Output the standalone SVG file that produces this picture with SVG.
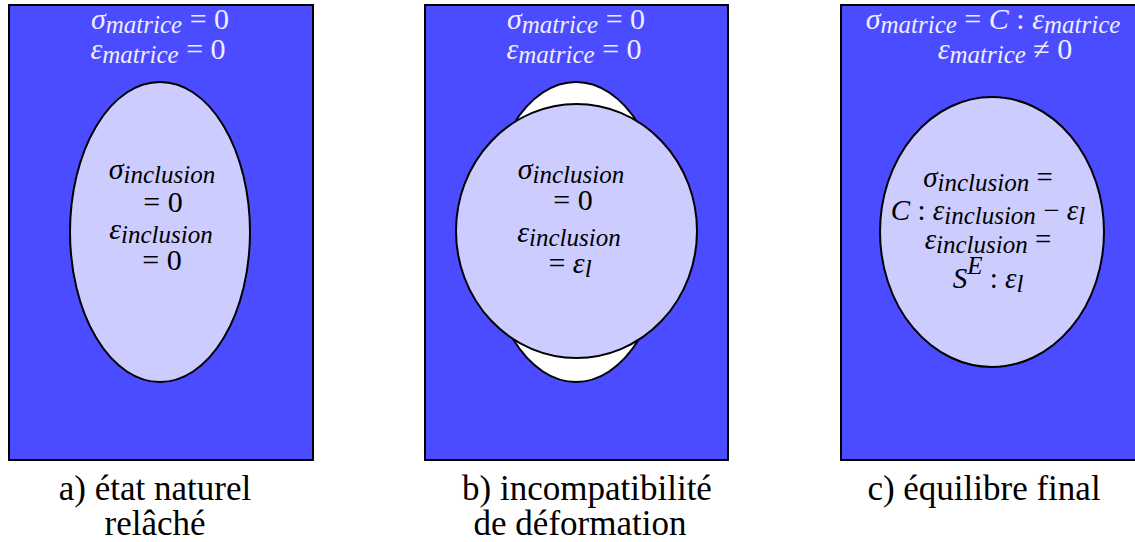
<svg xmlns="http://www.w3.org/2000/svg" width="1135" height="542" viewBox="0 0 1135 542">
<style>
.bg{fill:#4b4bff;stroke:#000;stroke-width:2}
.inc{fill:#ccccff;stroke:#000;stroke-width:2}
.wh{fill:#fff;stroke:#000;stroke-width:2}
.m{font-family:"Liberation Serif","DejaVu Serif",serif;font-size:30px}
.c{font-size:29px}
.i{font-style:italic}
.s{font-size:25px;font-style:italic}
.w{fill:#eeeeff}
.k{fill:#000}
.cap{font-family:"Liberation Serif","DejaVu Serif",serif;font-size:35px;fill:#000}
</style>
<g id="panel-a">
<rect class="bg" x="9" y="5" width="304" height="455"/>
<ellipse class="inc" cx="160" cy="232" rx="90" ry="150"/>
<text class="m w" x="160" y="29" text-anchor="middle"><tspan class="i">σ</tspan><tspan class="s" dy="4">matrice</tspan><tspan dy="-4"> = 0</tspan></text>
<text class="m w" x="158" y="59" text-anchor="middle"><tspan class="i">ε</tspan><tspan class="s" dy="4">matrice</tspan><tspan dy="-4"> = 0</tspan></text>
<text class="m k" x="162" y="179" text-anchor="middle"><tspan class="i">σ</tspan><tspan class="s" dy="4">inclusion</tspan></text>
<text class="m k" x="163" y="212" text-anchor="middle">= 0</text>
<text class="m k" x="161" y="239" text-anchor="middle"><tspan class="i">ε</tspan><tspan class="s" dy="4">inclusion</tspan></text>
<text class="m k" x="162" y="270" text-anchor="middle">= 0</text>
</g>
<g id="panel-b">
<rect class="bg" x="425" y="5" width="303" height="455"/>
<ellipse class="wh" cx="576" cy="232" rx="90" ry="150"/>
<ellipse class="inc" cx="576.5" cy="231" rx="120.5" ry="127"/>
<text class="m w" x="576" y="29" text-anchor="middle"><tspan class="i">σ</tspan><tspan class="s" dy="4">matrice</tspan><tspan dy="-4"> = 0</tspan></text>
<text class="m w" x="574" y="59" text-anchor="middle"><tspan class="i">ε</tspan><tspan class="s" dy="4">matrice</tspan><tspan dy="-4"> = 0</tspan></text>
<text class="m k" x="571" y="179" text-anchor="middle"><tspan class="i">σ</tspan><tspan class="s" dy="4">inclusion</tspan></text>
<text class="m k" x="573" y="210" text-anchor="middle">= 0</text>
<text class="m k" x="569" y="242" text-anchor="middle"><tspan class="i">ε</tspan><tspan class="s" dy="4">inclusion</tspan></text>
<text class="m k" x="570" y="273" text-anchor="middle">= <tspan class="i">ε</tspan><tspan class="s" dy="4">l</tspan></text>
</g>
<g id="panel-c">
<rect class="bg" x="841" y="5" width="310" height="455"/>
<ellipse class="inc" cx="992" cy="232" rx="112" ry="135"/>
<text class="m w" x="993" y="29" text-anchor="middle"><tspan class="i">σ</tspan><tspan class="s" dy="4">matrice</tspan><tspan dy="-4"> = </tspan><tspan class="i">C</tspan> : <tspan class="i">ε</tspan><tspan class="s" dy="4">matrice</tspan></text>
<text class="m w" x="1005" y="59" text-anchor="middle"><tspan class="i">ε</tspan><tspan class="s" dy="4">matrice</tspan><tspan dy="-4"> ≠ 0</tspan></text>
<text class="m c k" x="988" y="187" text-anchor="middle"><tspan class="i">σ</tspan><tspan class="s" dy="4">inclusion</tspan><tspan dy="-4"> =</tspan></text>
<text class="m c k" x="988" y="220" text-anchor="middle"><tspan class="i">C</tspan> : <tspan class="i">ε</tspan><tspan class="s" dy="4">inclusion</tspan><tspan dy="-4"> − </tspan><tspan class="i">ε</tspan><tspan class="s" dy="4">l</tspan></text>
<text class="m c k" x="988" y="249" text-anchor="middle"><tspan class="i">ε</tspan><tspan class="s" dy="4">inclusion</tspan><tspan dy="-4"> =</tspan></text>
<text class="m c k" x="988" y="288" text-anchor="middle"><tspan class="i">S</tspan><tspan class="s" dy="-14">E</tspan><tspan dy="14"> : </tspan><tspan class="i">ε</tspan><tspan class="s" dy="4">l</tspan></text>
</g>
<g id="captions">
<text class="cap" x="155" y="500" text-anchor="middle">a) état naturel</text>
<text class="cap" x="155" y="535" text-anchor="middle">relâché</text>
<text class="cap" x="587" y="500" text-anchor="middle">b) incompatibilité</text>
<text class="cap" x="580" y="535" text-anchor="middle">de déformation</text>
<text class="cap" x="984" y="500" text-anchor="middle">c) équilibre final</text>
</g>
</svg>
